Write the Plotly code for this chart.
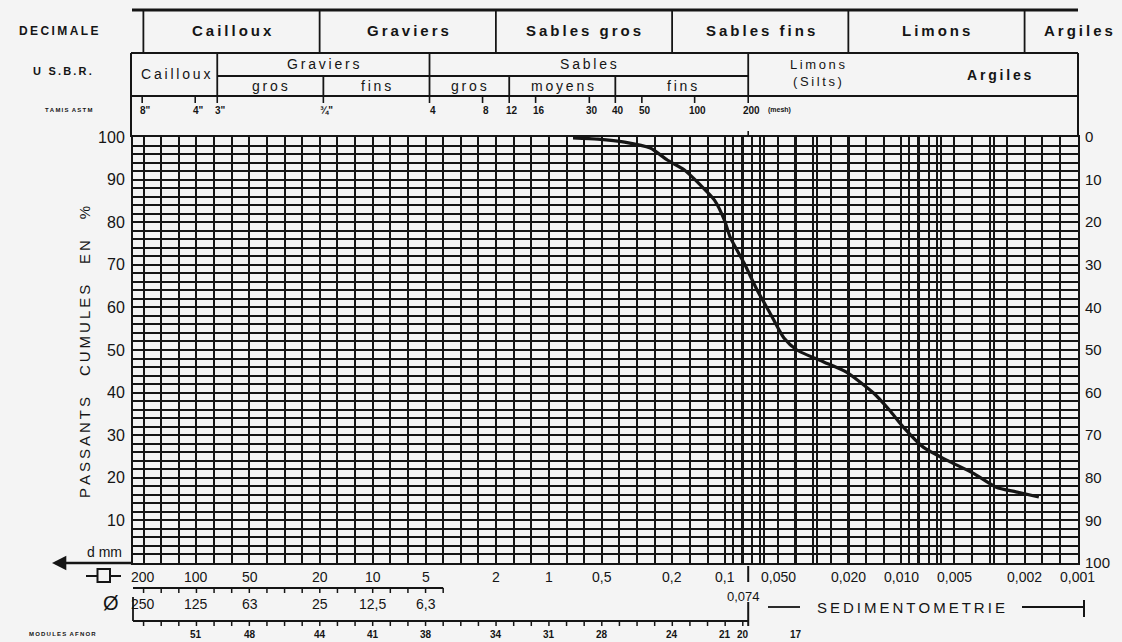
import math
import plotly.graph_objects as go

# ---------------- data ----------------
curve_d = [0.73, 0.528, 0.372, 0.266, 0.213, 0.171, 0.138, 0.115, 0.101, 0.0937,
           0.0781, 0.0659, 0.0557, 0.0464, 0.0392, 0.0276, 0.0205, 0.0144, 0.0117,
           0.00975, 0.00752, 0.00557, 0.00392, 0.00290, 0.00224, 0.00166]
curve_pct = [99.8, 99.5, 98.8, 97.4, 94.6, 92.3, 88.7, 85.2, 80.5, 76.5,
             70.4, 64.1, 58.7, 52.8, 50.0, 47.2, 44.8, 39.9, 35.9,
             31.9, 27.2, 24.2, 21.1, 17.8, 16.7, 15.5]

left_ticks = [10, 20, 30, 40, 50, 60, 70, 80, 90, 100]
right_ticks = [0, 10, 20, 30, 40, 50, 60, 70, 80, 90, 100]

square_d = [200, 100, 50, 20, 10, 5, 2, 1, 0.5, 0.2, 0.1, 0.05, 0.02, 0.01, 0.005, 0.002, 0.001]
square_labels = ['200', '100', '50', '20', '10', '5', '2', '1', '0,5', '0,2', '0,1',
                 '0,050', '0,020', '0,010', '0,005', '0,002', '0,001']
round_d = [200, 100, 50, 20, 10, 5]
round_labels = ['250', '125', '63', '25', '12,5', '6,3']
afnor_d = [100, 50, 20, 10, 5, 2, 1, 0.5, 0.2, 0.1, 0.0794, 0.0398]
afnor_labels = ['51', '48', '44', '41', '38', '34', '31', '28', '24', '21', '20', '17']
astm_d = [203.2, 101.6, 76.2, 19.05, 4.76, 2.38, 1.68, 1.19, 0.59, 0.42, 0.297, 0.149, 0.074]
astm_labels = ['8"', '4"', '3"', '¾"', '4', '8', '12', '16', '30', '40', '50', '100', '200']

decimal_bounds = [200, 20, 2, 0.2, 0.02, 0.002]
decimal_names = ['Cailloux', 'Graviers', 'Sables gros', 'Sables fins', 'Limons', 'Argiles']
usbr_bounds = [76.2, 4.76, 0.074]
gravel_bounds = [76.2, 19.05, 4.76]
gravel_names = ['gros', 'fins']
sand_bounds = [4.76, 1.68, 0.42, 0.074]
sand_names = ['gros', 'moyens', 'fins']
sedimento_d = 0.074
round_scale_end = 10 ** 0.6

# ---------------- layout helpers ----------------
INK = '#151515'
BG = '#f4f4f4'
FONT = 'Liberation Sans'
W, H = 1122, 642
ML, MR, MT, MB = 133, 44, 137, 79
PW, PH = W - ML - MR, H - MT - MB
X_LEFT, X_RIGHT = 2.36, -3.002
lg = math.log10


def py(y):
    return (H - MB - y) / PH


def px(x):
    return (x - ML) / PW


def sp(s, gap='\u2009'):
    return gap.join(s)


shapes = []
ann = []


def seg(x0, y0, x1, y1, xref='x', w=1.8):
    # xref='x': x values are diameters (mm) on the log axis; xref='paper': fractions
    shapes.append(dict(type='line', xref=xref, yref='paper', x0=x0, x1=x1,
                       y0=py(y0), y1=py(y1), line=dict(color=INK, width=w)))


def text(x, y, s, size=14, xref='x', bold=False, xanchor='center', **kw):
    # xref='x': x is log10(diameter)
    ann.append(dict(x=x, y=py(y), xref=xref, yref='paper', text=s, showarrow=False,
                    xanchor=xanchor, yanchor='middle',
                    font=dict(family=FONT, size=size, color=INK,
                              weight='bold' if bold else 'normal'), **kw))


# ---------------- header: DECIMALE ----------------
seg(px(132), 10, px(1078), 10, xref='paper', w=3)
seg(px(131), 53, px(1078), 53, xref='paper', w=2)
for b in decimal_bounds:
    seg(b, 10, b, 53)
for i, name in enumerate(decimal_names):
    if i < len(decimal_bounds) - 1:
        xc = (lg(decimal_bounds[i]) + lg(decimal_bounds[i + 1])) / 2
        text(xc, 31, sp(name), size=15, bold=True)
    else:
        text(px(1078), 31, sp(name), size=15, bold=True, xref='paper')
text(px(58), 31, sp('DECIMALE'), size=12, bold=True, xref='paper')

# ---------------- header: USBR ----------------
seg(px(131), 53, px(131), 137, xref='paper', w=2)
seg(px(1078), 53, px(1078), 137, xref='paper', w=2)
for b in usbr_bounds:
    seg(b, 53, b, 96)
seg(usbr_bounds[0], 76, usbr_bounds[-1], 76)
for b in gravel_bounds[1:-1] + sand_bounds[1:-1]:
    seg(b, 76, b, 96)
seg(px(131), 96, px(1078), 96, xref='paper', w=2)

text((X_LEFT + lg(usbr_bounds[0])) / 2, 74, sp('Cailloux'), size=14)
text((lg(gravel_bounds[0]) + lg(gravel_bounds[-1])) / 2, 64, sp('Graviers'), size=14)
text((lg(sand_bounds[0]) + lg(sand_bounds[-1])) / 2, 64, sp('Sables'), size=14)
for i, nm in enumerate(gravel_names):
    text((lg(gravel_bounds[i]) + lg(gravel_bounds[i + 1])) / 2, 86, sp(nm), size=14)
for i, nm in enumerate(sand_names):
    text((lg(sand_bounds[i]) + lg(sand_bounds[i + 1])) / 2, 86, sp(nm), size=14)
text(lg(0.030), 73, sp('Limons') + '<br>' + sp('(Silts)'), size=13)
text(lg(0.0028), 75, sp('Argiles'), size=14, bold=True)
text(px(62), 71, sp('U S.B.R.'), size=11, bold=True, xref='paper')

# ---------------- TAMIS ASTM row ----------------
for d, lab in zip(astm_d, astm_labels):
    seg(d, 96, d, 103, w=1.6)
    text(lg(d), 110, lab, size=10, bold=True, xshift=3)
seg(sedimento_d, 131, sedimento_d, 137, w=1.6)
text(lg(astm_d[-1]), 110, '(mesh)', size=7, bold=True, xanchor='left', xshift=18)
text(px(68), 110, sp('TAMIS') + '\u00a0\u00a0' + sp('ASTM'), size=6, bold=True, xref='paper')

# ---------------- bottom scales ----------------
# d mm arrow
ann.append(dict(x=px(52), y=0, xref='paper', yref='paper', text='', showarrow=True,
                ax=82, ay=0, arrowhead=2, arrowsize=1.1, arrowwidth=2.6, arrowcolor=INK))
text(px(104), 552, 'd mm', size=14, xref='paper')

# square hole row
seg(px(86), 576, px(121), 576, xref='paper', w=2)
shapes.append(dict(type='rect', xref='paper', yref='paper', x0=px(97.5), x1=px(110),
                   y0=py(582), y1=py(569), line=dict(color=INK, width=2), fillcolor=BG))
for d, lab in zip(square_d, square_labels):
    text(lg(d), 577, lab, size=14)
text(lg(sedimento_d), 596, '0,074', size=13, xshift=-5)

# round hole row
seg(250, 588, round_scale_end, 588, w=1.8)
for k in range(6, 24):
    seg(10 ** (k / 10), 588, 10 ** (k / 10), 593, w=1.5)
text(px(111), 603, 'Ø', size=20, xref='paper')
for d, lab in zip(round_d, round_labels):
    text(lg(d), 604, lab, size=14)
seg(px(133), 597, px(133), 621, xref='paper', w=1.8)

# AFNOR modules
seg(250, 621, sedimento_d, 621, w=1.8)
for k in range(-11, 24):
    seg(10 ** (k / 10), 621, 10 ** (k / 10), 626, w=1.5)
for d, lab in zip(afnor_d, afnor_labels):
    text(lg(d), 634, lab, size=10, bold=True)
text(px(62), 634, sp('MODULES') + '\u00a0\u00a0' + sp('AFNOR'), size=6, bold=True, xref='paper')

# Sedimentometrie bracket
seg(sedimento_d, 566, sedimento_d, 582, w=2)
seg(sedimento_d, 602, sedimento_d, 626, w=2)
seg(px(768), 607, px(800), 607, xref='paper', w=1.8)
text(px(911), 607, sp('SEDIMENTOMETRIE'), size=15, xref='paper')
seg(px(1022), 607, px(1084), 607, xref='paper', w=1.8)
seg(px(1084), 600, px(1084), 617, xref='paper', w=2)

# y title
wgap = '\u00a0' * 5
text(px(84), 352, sp('PASSANTS') + wgap + sp('CUMULES') + wgap + sp('EN') + wgap + '%',
     size=15, xref='paper', textangle=-90)

# ---------------- grid values ----------------
grid_x = sorted(set([round(10 ** (k / 10), 10) for k in range(-30, 24)]
                    + [m * 10 ** e for e in (-3, -2) for m in range(2, 10)]))
y_grid = list(range(0, 101, 2))
y_text = [str(v) if v in left_ticks else '' for v in y_grid]

fig = go.Figure()
fig.add_trace(go.Scatter(x=curve_d, y=curve_pct, mode='lines',
                         line=dict(color=INK, width=3.2, shape='spline', smoothing=0.6),
                         hoverinfo='skip', showlegend=False))
fig.add_trace(go.Scatter(x=[1], y=[50], yaxis='y2', mode='markers',
                         marker=dict(opacity=0), hoverinfo='skip', showlegend=False))

fig.update_layout(
    width=W, height=H,
    margin=dict(l=ML, r=MR, t=MT, b=MB, pad=0),
    paper_bgcolor=BG, plot_bgcolor=BG,
    font=dict(family=FONT, color=INK),
    showlegend=False,
    xaxis=dict(type='log', range=[X_LEFT, X_RIGHT], tickvals=grid_x, showticklabels=False,
               ticks='', showgrid=True, gridcolor=INK, gridwidth=1.5, zeroline=False,
               showline=True, mirror=True, linecolor=INK, linewidth=2),
    yaxis=dict(range=[0, 100], tickvals=y_grid, ticktext=y_text, ticks='',
               showgrid=True, gridcolor=INK, gridwidth=1.5, zeroline=False,
               showline=True, mirror=True, linecolor=INK, linewidth=2,
               tickfont=dict(size=16, family=FONT, color=INK), ticklabelstandoff=3),
    yaxis2=dict(overlaying='y', side='right', anchor='x', range=[100, 0], tickvals=right_ticks,
                ticks='', showgrid=False, zeroline=False, showline=False,
                tickfont=dict(size=15, family=FONT, color=INK), ticklabelstandoff=6),
    shapes=shapes,
    annotations=ann,
)

fig.write_html('out.html', config=dict(displayModeBar=False),
               post_script="document.body.style.margin='0px';document.body.style.overflow='hidden';")
